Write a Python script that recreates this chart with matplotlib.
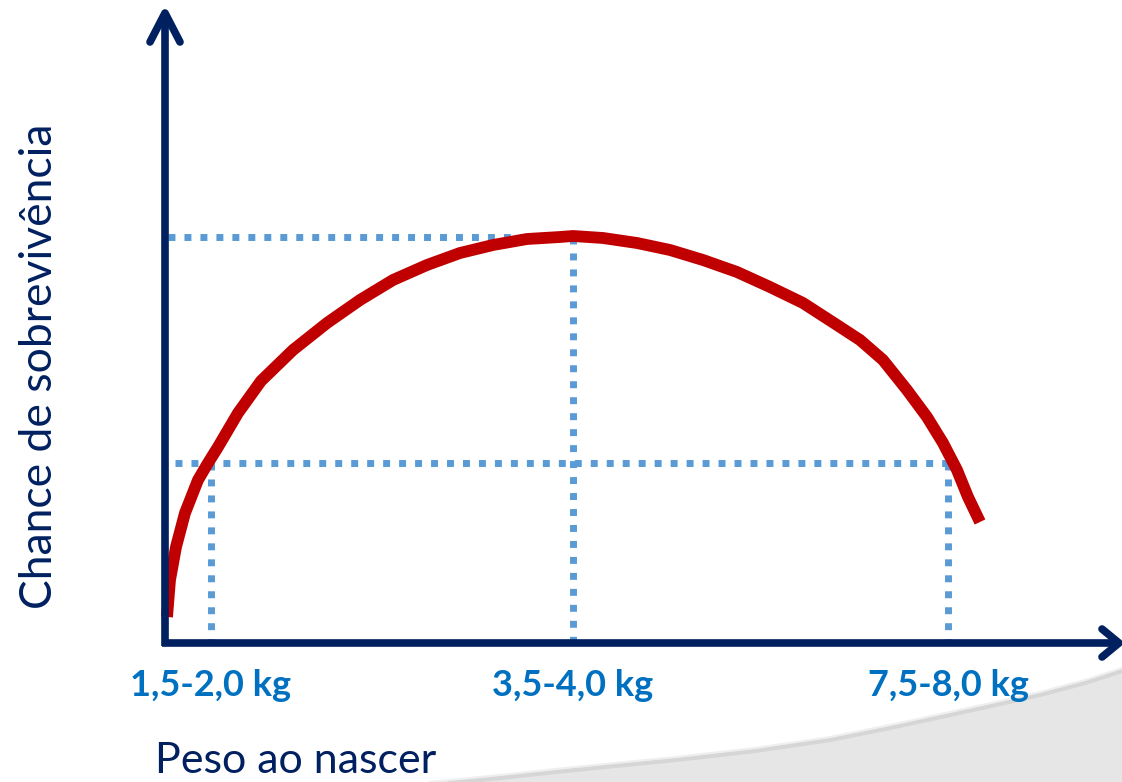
import matplotlib
matplotlib.use("Agg")
import matplotlib.pyplot as plt

# coordenadas em pixels relativos à origem dos eixos (x para direita, y para cima)
curva_x = [2, 5, 11, 20, 33, 43, 53, 73, 96, 128, 162, 195, 228, 262, 295, 328, 362,
           395, 408, 438, 472, 505, 538, 572, 605, 638, 672, 695, 718, 742, 762, 778,
           792, 803, 815]
curva_y = [26, 63, 96, 130, 163, 180, 196, 230, 262, 293, 320, 343, 363, 378, 390, 398,
           404, 406, 407, 405, 400, 393, 383, 371, 356, 340, 318, 303, 283, 253, 226,
           200, 173, 146, 121]

pos_rotulos = [46, 408, 783]
rotulos = ["1,5-2,0 kg", "3,5-4,0 kg", "7,5-8,0 kg"]
nivel_max = 406
nivel_baixo = 180

navy = "#002060"
vermelho = "#C00000"
azul_pont = "#5B9BD5"
azul_txt = "#0070C0"

fig = plt.figure(figsize=(11.22, 7.82), dpi=100)
ax = fig.add_axes([0, 0, 1, 1])
ax.set_xlim(-165, 957)
ax.set_ylim(-139, 643)
ax.axis("off")

# faixa cinza decorativa no canto inferior direito
borda_x = [265, 335, 400, 460, 511, 590, 665, 725, 785, 835, 875, 920, 957]
borda_y = [-139, -132, -125, -119, -114, -105, -94, -82, -69, -58, -49, -37, -25]
ax.fill_between(borda_x, borda_y, -139, color="#E6E6E6", zorder=0)
ax.plot(borda_x, [v - 3 for v in borda_y], color="#D6D6D6", lw=3, zorder=0)
ax.plot(borda_x, borda_y, color="#EFEFEF", lw=1.5, zorder=0)

# linhas pontilhadas
pont = dict(color=azul_pont, lw=5, dashes=(1, 1.3), dash_capstyle="butt", zorder=2)
ax.plot([3, pos_rotulos[1]], [nivel_max, nivel_max], **pont)
ax.plot([pos_rotulos[1], pos_rotulos[1]], [nivel_max, 0], **pont)
ax.plot([10, pos_rotulos[2]], [nivel_baixo, nivel_baixo], **pont)
ax.plot([pos_rotulos[0], pos_rotulos[0]], [nivel_baixo, 0], **pont)
ax.plot([pos_rotulos[2], pos_rotulos[2]], [nivel_baixo, 0], **pont)

# curva
ax.plot(curva_x, curva_y, color=vermelho, lw=8.5, solid_joinstyle="round",
        solid_capstyle="butt", zorder=3)

# eixos com setas
eixo = dict(color=navy, lw=5.5, solid_capstyle="butt", zorder=4)
ax.plot([0, 0], [-3, 629], **eixo)
ax.plot([-3, 955], [0, 0], **eixo)
seta = dict(color=navy, lw=5.5, solid_capstyle="round", solid_joinstyle="round", zorder=4)
ax.plot([-15, 0, 15], [601, 630, 601], **seta)
ax.plot([937, 954, 937], [14, 0, -14], **seta)

# textos
for xp, txt in zip(pos_rotulos, rotulos):
    ax.text(xp, -53, txt, ha="center", va="baseline", fontsize=26,
            fontweight="bold", color=azul_txt, family="Lato")

ax.text(-10, -130, "Peso ao nascer", ha="left", va="baseline", fontsize=31,
        color=navy, family="Lato")
ax.text(-125, 277, "Chance de sobrevivência", ha="center", va="center",
        rotation=90, fontsize=32, color=navy, family="Lato")

fig.savefig("out.png", dpi=100)
